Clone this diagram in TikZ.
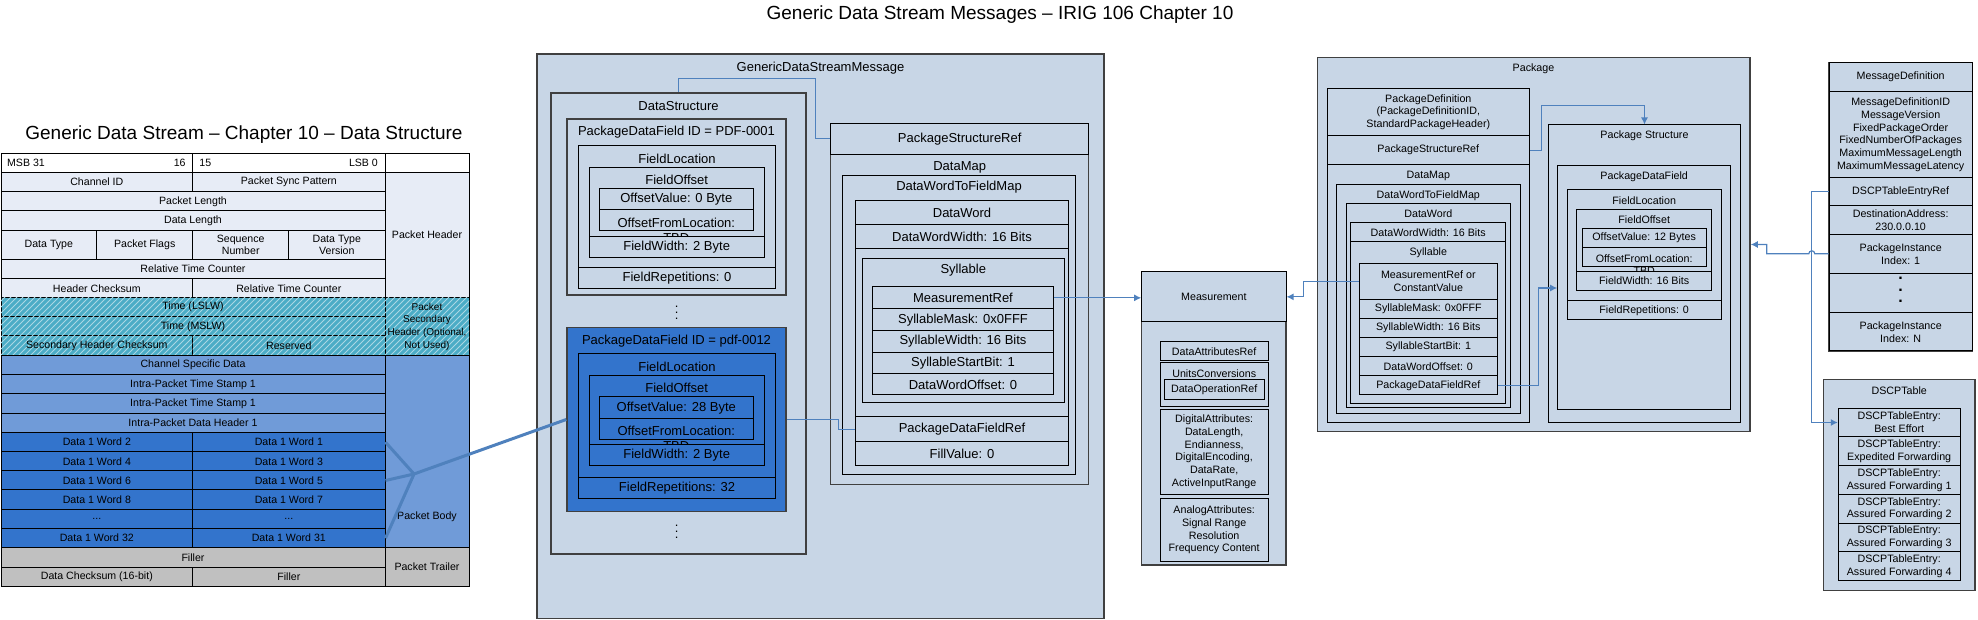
\documentclass[tikz,border=0pt]{standalone}
\usepackage{fontspec}
\setmainfont{Liberation Sans}
\usepackage{tikz}
\usetikzlibrary{calc,arrows.meta,patterns,positioning}

\definecolor{boxbg}{RGB}{200,214,230}
\definecolor{hdrbg}{RGB}{231,236,246}
\definecolor{bodybg}{RGB}{112,155,216}
\definecolor{wordbg}{RGB}{51,116,204}
\definecolor{trlbg}{RGB}{192,192,192}
\definecolor{tealbg}{RGB}{75,172,198}
\definecolor{hatchc}{RGB}{170,215,228}
\definecolor{linkblue}{RGB}{79,129,189}

\newcommand\tblfont{\fontsize{5.3}{6.35}\selectfont}
\newcommand\gdsfont{\fontsize{6.5}{7.5}\selectfont}
\newcommand\smlfont{\fontsize{5.35}{6.4}\selectfont}
\newcommand\ttlfont{\fontsize{9.5}{11}\selectfont}

\tikzset{
	span/.style n args={4}{minimum width={(#3-#1)*0.5pt}, minimum height={(#4-#2)*0.5pt}, at={({(#1+#3)/2},{(#2+#4)/2})}},
	tcell/.style={draw=black, line width=0.5pt, inner sep=0pt, font=\tblfont, align=center},
	hatch/.style={fill=tealbg, postaction={pattern=north east lines, pattern color=hatchc}},
	obox/.style={draw=black!75, line width=0.75pt, fill=boxbg, inner sep=0pt, align=center},
	ibox/.style={draw=black, line width=0.5pt, fill=boxbg, inner sep=0pt, align=center},
	link/.style={draw=linkblue, line width=0.6pt},
	feed/.style={draw=linkblue, line width=1.5pt},
	tip/.style={-{Latex[length=3.5pt,width=3.5pt]}},
	vdots/.style={font=\fontsize{6.5}{2.85}\selectfont, align=center, inner sep=0pt}
}

\begin{document}
\begin{tikzpicture}[x=0.5pt, y=-0.5pt]
	\useasboundingbox (0,0) rectangle (1978,620);

	% titles
	\node[font=\ttlfont] (maintitle) at (1000,15) {Generic Data Stream Messages – IRIG 106 Chapter 10};
	\node[font=\ttlfont, anchor=base west, inner sep=0pt] (tbltitle) at (25,140) {Generic Data Stream – Chapter 10 – Data Structure};

	% packet table
	\node[tcell, fill=white, span={1}{153.3}{192.7}{172.7}] (msbl) {};
	\node[tcell, fill=white, span={192.7}{153.3}{385}{172.7}] (msbr) {};
	\node[tcell, fill=white, span={385}{153.3}{469}{172.7}] (msbs) {};
	\node[font=\tblfont, anchor=west, inner sep=0pt] at (6.7,163) {MSB 31};
	\node[font=\tblfont, anchor=east, inner sep=0pt] at (186,163) {16};
	\node[font=\tblfont, anchor=west, inner sep=0pt] at (199,163) {15};
	\node[font=\tblfont, anchor=east, inner sep=0pt] at (378.3,163) {LSB 0};

	\foreach \ya/\yb/\t [count=\i] in {191.7/211/Packet Length, 211/230.7/Data Length, 259.3/279/Relative Time Counter}
		\node[tcell, fill=hdrbg, span={1}{\ya}{385}{\yb}] (hrow\i) {\t};
	\foreach \ya/\yb/\ta/\tb [count=\i] in {172.7/191.7/Channel ID/Packet Sync Pattern, 279/297.7/Header Checksum/Relative Time Counter}{
		\node[tcell, fill=hdrbg, span={1}{\ya}{192.7}{\yb}] (hrowl\i) {\ta};
		\node[tcell, fill=hdrbg, span={192.7}{\ya}{385}{\yb}] (hrowr\i) {\tb};
	}
	\node[tcell, fill=hdrbg, span={1}{230.7}{96.7}{259.3}] (dtype) {Data Type};
	\node[tcell, fill=hdrbg, span={96.7}{230.7}{192.7}{259.3}] (pflags) {Packet Flags};
	\node[tcell, fill=hdrbg, span={192.7}{230.7}{288.7}{259.3}] (seqnum) {Sequence\\Number};
	\node[tcell, fill=hdrbg, span={288.7}{230.7}{385}{259.3}] (dtver) {Data Type\\Version};

	\node[tcell, hatch, span={1}{297.7}{385}{316.7}] (tlslw) {Time (LSLW)};
	\node[tcell, hatch, span={1}{316.7}{385}{336}] (tmslw) {Time (MSLW)};
	\node[tcell, hatch, span={1}{336}{192.7}{355.3}] (secchk) {Secondary Header Checksum};
	\node[tcell, hatch, span={192.7}{336}{385}{355.3}] (resvd) {Reserved};

	\foreach \ya/\yb/\t [count=\i] in {355.3/374.7/Channel Specific Data, 374.7/394/Intra-Packet Time Stamp 1, 394/413.3/Intra-Packet Time Stamp 1, 413.3/432.7/Intra-Packet Data Header 1}
		\node[tcell, fill=bodybg, span={1}{\ya}{385}{\yb}] (brow\i) {\t};
	\foreach \ya/\yb/\ta/\tb [count=\i] in {432.7/451.7/Data 1 Word 2/Data 1 Word 1, 451.7/471/Data 1 Word 4/Data 1 Word 3, 471/490/Data 1 Word 6/Data 1 Word 5, 490/509.3/Data 1 Word 8/Data 1 Word 7, 528.7/547.7/Data 1 Word 32/Data 1 Word 31}{
		\node[tcell, fill=wordbg, span={1}{\ya}{192.7}{\yb}] (wordl\i) {\ta};
		\node[tcell, fill=wordbg, span={192.7}{\ya}{385}{\yb}] (wordr\i) {\tb};
	}
	\node[tcell, fill=wordbg, span={1}{509.3}{192.7}{528.7}] (wdotsl) {...};
	\node[tcell, fill=wordbg, span={192.7}{509.3}{385}{528.7}] (wdotsr) {...};

	\node[tcell, fill=trlbg, span={1}{547.7}{385}{567}] (filler) {Filler};
	\node[tcell, fill=trlbg, span={1}{567}{192.7}{586}] (dchk) {Data Checksum (16-bit)};
	\node[tcell, fill=trlbg, span={192.7}{567}{385}{586}] (filler2) {Filler};

	\node[tcell, fill=hdrbg, span={385}{172.7}{469}{297.7}] (sidehdr) {Packet Header};
	\node[tcell, hatch, font=\fontsize{5}{6.35}\selectfont, span={385}{297.7}{469}{355.3}] (sidesec) {Packet\\Secondary\\Header (Optional,\\Not Used)};
	\node[tcell, fill=bodybg, span={385}{355.3}{469}{547.7}] (sidebody) {};
	\node[font=\tblfont] (sidebodylbl) at (427,517) {Packet Body};
	\node[tcell, fill=trlbg, span={385}{547.7}{469}{586}] (sidetrl) {Packet Trailer};

	% generic data stream message
	\begin{scope}[font=\gdsfont]
		\node[obox, span={537}{54}{1104}{618.5}] (gdsm) {};
		\node (gdsmlbl) at (820.5,68) {GenericDataStreamMessage};
		\node[obox, span={551}{93}{806}{554}] (dstruct) {};
		\node (dstructlbl) at (678.5,106) {DataStructure};

		\node[obox, span={567}{119}{786}{295}] (pdfa) {};
		\node at (676.5,131.7) {PackageDataField ID = PDF-0001};
		\node[ibox, span={578.3}{145.7}{775.7}{289}] (floca) {};
		\node at (677,159) {FieldLocation};
		\node[ibox, span={589}{167.3}{764.3}{257.7}] (foffa) {};
		\node at (676.7,180) {FieldOffset};
		\node[ibox, span={599.3}{188.3}{753.3}{210}] (ovala) {OffsetValue: 0 Byte};
		\node[ibox, span={599.3}{210}{753.3}{231}] (ofla) {};
		\node[anchor=base] at (676.3,228) {OffsetFromLocation:};
		\node[anchor=base] at (676.3,243) {TBD};
		\node[ibox, span={589}{236.7}{764.3}{257.7}] (fwa) {FieldWidth: 2 Byte};
		\node[ibox, span={578.3}{267.7}{775.7}{289}] (frepa) {FieldRepetitions: 0};
		\node[vdots] at (676.7,313) {.\\.\\.};

		\node[obox, fill=wordbg, span={567}{327.3}{786}{511.7}] (pdfb) {};
		\node at (676.5,340.7) {PackageDataField ID = pdf-0012};
		\node[ibox, fill=wordbg, span={578.3}{354}{775.7}{499}] (flocb) {};
		\node at (677,366.7) {FieldLocation};
		\node[ibox, fill=wordbg, span={589}{375.7}{764.3}{466}] (foffb) {};
		\node at (676.7,388.3) {FieldOffset};
		\node[ibox, fill=wordbg, span={599.3}{397}{753.3}{418.3}] (ovalb) {OffsetValue: 28 Byte};
		\node[ibox, fill=wordbg, span={599.3}{418.3}{753.3}{439.3}] (oflb) {};
		\node[anchor=base] at (676.3,435.3) {OffsetFromLocation:};
		\node[anchor=base] at (676.3,450.3) {TBD};
		\node[ibox, fill=wordbg, span={589}{445}{764.3}{466}] (fwb) {FieldWidth: 2 Byte};
		\node[ibox, fill=wordbg, span={578.3}{477.3}{775.7}{499}] (frepb) {FieldRepetitions: 32};
		\node[vdots] at (676.7,532) {.\\.\\.};

		\node[obox, span={830.7}{123.3}{1088.7}{484.3}] (dmapa) {};
		\node[ibox, span={830.7}{123.3}{1088.7}{154.3}] (psra) {PackageStructureRef};
		\node at (959.7,167.3) {DataMap};
		\node[ibox, span={842.7}{176}{1075.3}{475}] (dwfma) {};
		\node at (959,187.3) {DataWordToFieldMap};
		\node[ibox, span={855.3}{200.7}{1068.7}{465.7}] (dworda) {};
		\node[ibox, span={855.3}{200.7}{1068.7}{224.3}] (dwlbla) {DataWord};
		\node[ibox, span={855.3}{224.3}{1068.7}{249}] (dwwa) {DataWordWidth: 16 Bits};
		\node[ibox, span={862.3}{258.3}{1064.3}{402.3}] (sylla) {};
		\node at (963.3,270) {Syllable};
		\foreach \ya/\yb/\t/\n in {286.7/309/MeasurementRef/mrefa, 309/330.7/SyllableMask: 0x0FFF/smska, 330.7/352.3/SyllableWidth: 16 Bits/swa, 352.3/374/SyllableStartBit: 1/ssba, 374/395/DataWordOffset: 0/dwoa}
			\node[ibox, span={872.7}{\ya}{1053.3}{\yb}] (\n) {\t};
		\node[ibox, span={855.3}{416.7}{1068.7}{441.7}] (pdfra) {PackageDataFieldRef};
		\node[ibox, span={855.3}{441.7}{1068.7}{465.7}] (filla) {FillValue: 0};
	\end{scope}

	% measurement
	\begin{scope}[font=\smlfont]
		\node[obox, span={1141.7}{272}{1286}{565}] (meas) {};
		\node[ibox, span={1141.7}{272}{1286}{321.7}] (meashd) {Measurement};
		\node[ibox, span={1160}{341.7}{1268.3}{360.7}] (dattr) {DataAttributesRef};
		\node[ibox, span={1160}{362.7}{1268.3}{406.7}] (uconv) {};
		\node at (1214.2,374) {UnitsConversions};
		\node[ibox, span={1164.3}{380}{1264}{400}] (dopref) {DataOperationRef};
		\node[ibox, span={1160}{409.3}{1268.3}{494.3}] (digattr) {DigitalAttributes:\\DataLength,\\Endianness,\\DigitalEncoding,\\DataRate,\\ActiveInputRange};
		\node[ibox, span={1160}{498.3}{1268.3}{561.7}] (anattr) {AnalogAttributes:\\Signal Range\\Resolution\\Frequency Content};

		% package
		\node[obox, span={1317.3}{57.3}{1750}{431.7}] (pkg) {};
		\node at (1533.5,68.3) {Package};
		\node[ibox, span={1327.3}{88.3}{1529.3}{422.7}] (pkgdef) {};
		\node[ibox, span={1327.3}{88.3}{1529.3}{136}] (pkgdefhd) {PackageDefinition\\(PackageDefinitionID,\\StandardPackageHeader)};
		\node[ibox, span={1327.3}{136}{1529.3}{164.3}] (psrb) {PackageStructureRef};
		\node at (1428.3,176) {DataMap};
		\node[ibox, span={1336.7}{184.3}{1520}{413.3}] (dwfmb) {};
		\node at (1428.3,195.3) {DataWordToFieldMap};
		\node[ibox, span={1346.7}{203.3}{1510}{407.7}] (dwordb) {};
		\node at (1428.3,214) {DataWord};
		\node[ibox, span={1350.7}{222.7}{1505.7}{403.3}] (dwinb) {};
		\node[ibox, span={1350.7}{222.7}{1505.7}{241.7}] (dwwb) {DataWordWidth: 16 Bits};
		\node at (1428.3,252.7) {Syllable};
		\node[ibox, span={1359.3}{263.3}{1497.3}{299.3}] (mrefb) {MeasurementRef or\\ConstantValue};
		\foreach \ya/\yb/\t/\n in {299.3/318.7/SyllableMask: 0x0FFF/smskb, 318.7/337.7/SyllableWidth: 16 Bits/swb, 337.7/356.7/SyllableStartBit: 1/ssbb, 356.7/376/DataWordOffset: 0/dwob, 376/395/PackageDataFieldRef/pdfrb}
			\node[ibox, span={1359.3}{\ya}{1497.3}{\yb}] (\n) {\t};

		\node[ibox, span={1548.3}{125}{1740.7}{422.3}] (pstruct) {};
		\node at (1644.5,136) {Package Structure};
		\node[ibox, span={1557.7}{166}{1730.7}{410}] (pdfield) {};
		\node at (1644.2,176.7) {PackageDataField};
		\node[ibox, span={1567.3}{190}{1721}{320}] (flocc) {};
		\node at (1644.2,200.7) {FieldLocation};
		\node[ibox, span={1576.7}{209.3}{1711.7}{290.7}] (foffc) {};
		\node at (1644.2,220) {FieldOffset};
		\node[ibox, span={1582.3}{228.3}{1706}{247.3}] (ovalc) {OffsetValue: 12 Bytes};
		\node[ibox, span={1582.3}{247.3}{1706}{266.7}] (oflc) {};
		\node[anchor=base] at (1644.2,262.2) {OffsetFromLocation:};
		\node[anchor=base] at (1644.2,274.7) {TBD};
		\node[ibox, span={1576.7}{271.3}{1711.7}{290.7}] (fwc) {FieldWidth: 16 Bits};
		\node[ibox, span={1567.3}{300.7}{1721}{320}] (frepc) {FieldRepetitions: 0};

		% message definition
		\node[obox, span={1829}{62.7}{1972.3}{351}] (msgdef) {};
		\node[ibox, span={1829}{62.7}{1972.3}{91.7}] (msgdefhd) {MessageDefinition};
		\node[ibox, span={1829}{91.7}{1972.3}{177.7}] (msgprops) {MessageDefinitionID\\MessageVersion\\FixedPackageOrder\\FixedNumberOfPackages\\MaximumMessageLength\\MaximumMessageLatency};
		\node[ibox, span={1829}{177.7}{1972.3}{206}] (dscpref) {DSCPTableEntryRef};
		\node[ibox, span={1829}{206}{1972.3}{234.3}] (destaddr) {DestinationAddress:\\230.0.0.10};
		\node[ibox, span={1829}{234.3}{1972.3}{273.3}] (pkgione) {PackageInstance\\Index: 1};
		\node[ibox, span={1829}{273.3}{1972.3}{312.7}] (pkgidots) {};
		\node[font=\fontsize{8}{5.8}\bfseries, align=center, inner sep=0pt] at (1900.6,290) {.\\.\\.};
		\node[ibox, span={1829}{312.7}{1972.3}{351}] (pkgin) {PackageInstance\\Index: N};

		% dscp table
		\node[obox, span={1823.3}{379.3}{1975}{590.7}] (dscp) {};
		\node at (1899.2,391) {DSCPTable};
		\foreach \ya/\yb/\t [count=\i] in {408.3/436.7/Best Effort, 436.7/465.7/Expedited Forwarding, 465.7/494.3/Assured Forwarding 1, 494.3/523/Assured Forwarding 2, 523/551.7/Assured Forwarding 3, 551.7/580.7/Assured Forwarding 4}
			\node[ibox, span={1838.3}{\ya}{1960}{\yb}] (dscpe\i) {DSCPTableEntry:\\\t};
	\end{scope}

	% connectors
	\coordinate (feedjoin) at (414,474);
	\draw[feed] (wordr1.east) -- (feedjoin);
	\draw[feed] (wordr3.east) -- (feedjoin);
	\draw[feed] (wordr5.east) -- (feedjoin);
	\draw[feed] (feedjoin) -- (pdfb.west);

	\draw[link] (dstruct.north) |- (815.7,78.3) |- (psra.west);
	\draw[link] (pdfb.east) -- ++(51.7,0) |- (pdfra.west);
	\draw[link, tip] (mrefa.east) -- (mrefa.east -| meashd.west);
	\draw[link, tip] (mrefb.west) -- ++(-55.3,0) |- (meashd.east);
	\draw[link, tip] (psrb.east) -- ++(11.4,0) |- ($(pstruct.north)+(0,-19)$) -- (pstruct.north);
	\draw[link, tip] (pdfrb.east) -- ++(41,0) |- (pdfield.west);
	\draw[link, tip] (dscpref.west) -- ++(-16.7,0) |- (dscpe1.west);
	\draw[link, tip] (pkgione.west) -- ++(-13.7,0) arc[start angle=0, end angle=-180, radius=3] -- ++(-42,0) |- (pkg.east);
\end{tikzpicture}
\end{document}
